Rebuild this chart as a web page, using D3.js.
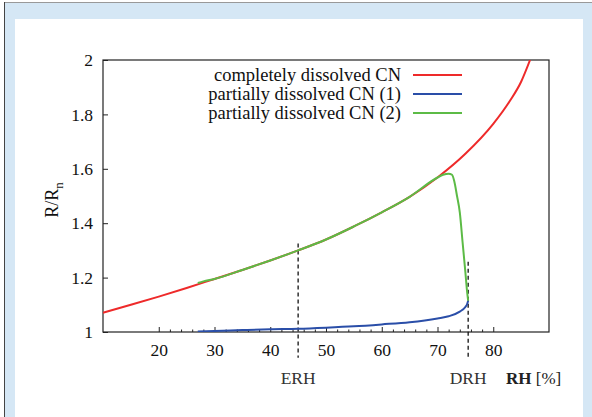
<!DOCTYPE html>
<html>
<meta charset='utf-8'>
<head>
<script src='https://d3js.org/d3.v7.min.js'></script>
<style>
body { margin: 0; background: #ffffff; }
text { font-family: 'Liberation Serif', 'DejaVu Serif', serif; }
</style>
</head>
<body>
<div id='chart'></div>
<script>

// relative humidity [%] -> R/Rn
var redRH   = [10, 15, 20, 25, 30, 35, 40, 45, 50, 55, 60, 65, 70, 75, 80, 83, 85, 86.6]
var redVal  = [1.071, 1.100, 1.130, 1.162, 1.195, 1.228, 1.263, 1.300, 1.340, 1.388, 1.440, 1.497, 1.568, 1.655, 1.765, 1.850, 1.920, 2.0]

var blueRH  = [27, 30, 35, 40, 45, 50, 55, 60, 65, 70, 72, 74, 75, 75.3, 75.5]
var blueVal = [1.002, 1.004, 1.007, 1.010, 1.012, 1.016, 1.021, 1.028, 1.036, 1.050, 1.058, 1.075, 1.092, 1.102, 1.115]

var greenRH  = [27, 28, 30, 35, 40, 45, 50, 55, 60, 65, 70, 71, 72, 72.6, 73, 73.5, 74, 74.5, 75, 75.3, 75.5]
var greenVal = [1.180, 1.186, 1.195, 1.228, 1.263, 1.300, 1.340, 1.388, 1.440, 1.497, 1.568, 1.578, 1.582, 1.578, 1.555, 1.500, 1.440, 1.330, 1.220, 1.150, 1.115]

var xMajor = [20, 30, 40, 50, 60, 70, 80]
var xMinor = [22, 24, 26, 28, 32, 34, 36, 38, 42, 44, 46, 48, 52, 54, 56, 58, 62, 64, 66, 68, 72, 74, 76, 78]
var yTicks = [1, 1.2, 1.4, 1.6, 1.8, 2]

var legendNames = ['completely dissolved CN', 'partially dissolved CN (1)', 'partially dissolved CN (2)']
var colors = ['#ee2a2a', '#2a4ea8', '#5cbb46']

var markRH = [45, 75.5]
var markNames = ['ERH', 'DRH']
var markTop = [1.325, 1.258]

var W = 592, H = 417
var svg = d3.select('#chart').append('svg')
    .attr('width', W).attr('height', H)

// page frame
svg.append('rect').attr('x', 4).attr('y', 2).attr('width', W - 4).attr('height', H - 2)
    .attr('fill', '#d5e7f5')
svg.append('rect').attr('x', 15).attr('y', 19).attr('width', 568).attr('height', H - 19)
    .attr('fill', '#ffffff')
svg.append('line').attr('x1', 4).attr('x2', W).attr('y1', 2.5).attr('y2', 2.5)
    .attr('stroke', '#999').attr('stroke-width', 1)
svg.append('line').attr('x1', 4.5).attr('x2', 4.5).attr('y1', 2).attr('y2', H)
    .attr('stroke', '#444').attr('stroke-width', 1)

var pLeft = 103, pRight = 549, pTop = 60, pBottom = 332
var x = d3.scaleLinear().domain([10, 90]).range([pLeft, pRight])
var y = d3.scaleLinear().domain([1, 2]).range([pBottom, pTop])

var g = svg.append('g')

// x axis ticks (inward)
g.append('g').attr('transform', 'translate(0,' + pBottom + ')')
    .call(d3.axisBottom(x).tickValues(xMinor).tickSize(-2.5).tickFormat(''))
    .call(function(a) { a.select('.domain').remove() })
g.append('g').attr('transform', 'translate(0,' + pBottom + ')')
    .call(d3.axisBottom(x).tickValues(xMajor).tickSize(-5).tickPadding(12).tickFormat(d3.format('d')))
    .call(function(a) { a.select('.domain').remove() })

g.append('g').attr('transform', 'translate(' + pLeft + ',0)')
    .call(d3.axisLeft(y).tickValues(yTicks).tickSize(-5).tickPadding(10).tickFormat(function(d) { return String(d) }))
    .call(function(a) { a.select('.domain').remove() })

g.selectAll('.tick line').attr('stroke', '#222')
g.selectAll('.tick text').attr('font-size', 17.5).attr('fill', '#111')
    .attr('font-family', "'Liberation Serif', serif")

// frame
g.append('rect').attr('x', pLeft).attr('y', pTop).attr('width', pRight - pLeft).attr('height', pBottom - pTop)
    .attr('fill', 'none').attr('stroke', '#222').attr('stroke-width', 1.2)

// ERH / DRH markers
markRH.forEach(function(v, i) {
    g.append('line')
        .attr('x1', x(v)).attr('x2', x(v))
        .attr('y1', y(markTop[i])).attr('y2', y(0.905))
        .attr('stroke', '#111').attr('stroke-width', 1.3).attr('stroke-dasharray', '4,3')
    g.append('text').attr('x', x(v)).attr('y', 384)
        .attr('text-anchor', 'middle').attr('font-size', 17.5).attr('fill', '#333')
        .text(markNames[i])
})
var rh = g.append('text').attr('x', 506).attr('y', 384).attr('font-size', 17).attr('fill', '#222')
rh.append('tspan').attr('font-weight', 'bold').text('RH')
rh.append('tspan').text(' [%]')

// y label
var yl = g.append('text')
    .attr('transform', 'translate(58,200) rotate(-90)')
    .attr('text-anchor', 'middle').attr('font-size', 18).attr('fill', '#111')
yl.append('tspan').text('R/R')
yl.append('tspan').attr('font-size', 13).attr('dy', 5).text('n')

// curves
var series = [[redRH, redVal], [blueRH, blueVal], [greenRH, greenVal]]
var line = d3.line()
    .x(function(d) { return x(d[0]) })
    .y(function(d) { return y(d[1]) })
    .curve(d3.curveMonotoneX)
var clip = svg.append('clipPath').attr('id', 'clip')
clip.append('rect').attr('x', pLeft).attr('y', pTop).attr('width', pRight - pLeft).attr('height', pBottom - pTop)
series.forEach(function(s, i) {
    var pts = s[0].map(function(v, j) { return [v, s[1][j]] })
    g.append('path').datum(pts)
        .attr('clip-path', 'url(#clip)')
        .attr('fill', 'none')
        .attr('stroke', colors[i])
        .attr('stroke-width', 2)
        .attr('stroke-linejoin', 'round')
        .attr('d', line)
})

// legend
legendNames.forEach(function(n, i) {
    var ly = 75 + i * 19
    g.append('text').attr('x', 401).attr('y', ly + 6)
        .attr('text-anchor', 'end').attr('font-size', 18.5).attr('fill', '#111')
        .text(n)
    g.append('line').attr('x1', 413).attr('x2', 462).attr('y1', ly).attr('y2', ly)
        .attr('stroke', colors[i]).attr('stroke-width', 2)
})

</script>
</body>
</html>
